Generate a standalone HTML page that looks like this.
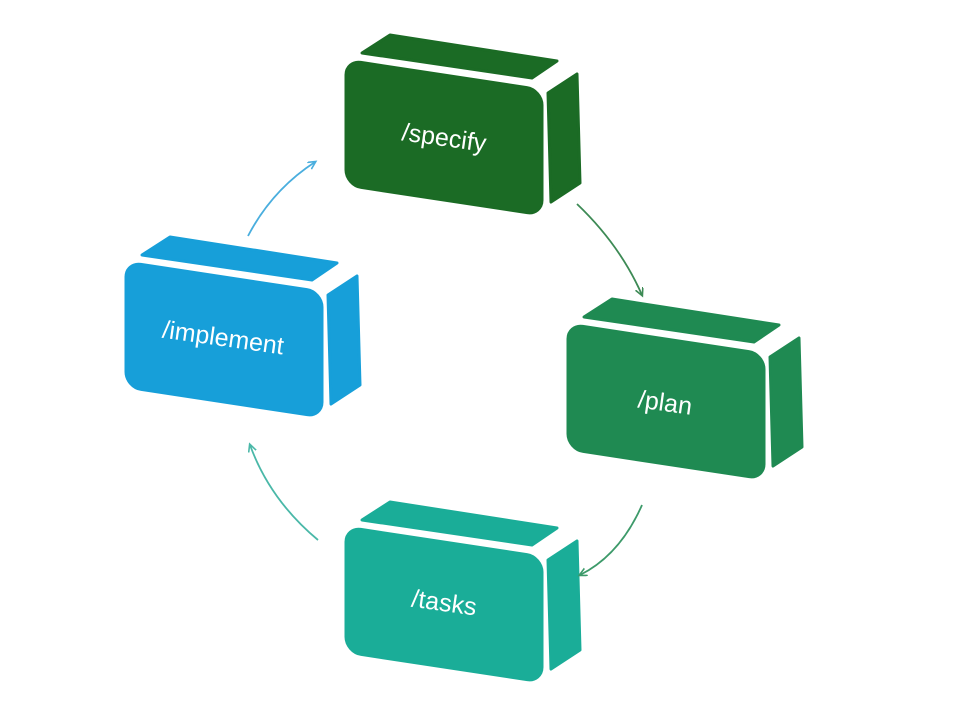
<!DOCTYPE html>
<html><head><meta charset="utf-8"><style>
html,body{margin:0;padding:0;background:#fff;width:964px;height:712px;overflow:hidden}
text{font-family:"Liberation Sans","DejaVu Sans",sans-serif;font-size:25px;fill:#fff}
</style></head><body>
<svg width="964" height="712" viewBox="0 0 964 712" xmlns="http://www.w3.org/2000/svg">
<defs>
<g id="box">
  <polygon points="17,-6 45,-24 212,2 187,19" stroke-linejoin="round" stroke-width="3"/>
  <polygon points="203,34 232,15 235,124 206,143" stroke-linejoin="round" stroke-width="3"/>
  <g transform="matrix(1,0.152,0,1,0,0)"><rect x="0" y="0" width="198" height="127" rx="16"/></g>
</g>
<marker id="ah" markerWidth="10" markerHeight="10" refX="7" refY="4" orient="auto" markerUnits="userSpaceOnUse">
<path d="M0,0 L8,4 L0,8" fill="none" stroke="context-stroke" stroke-width="1.6"/></marker>
</defs>
<g fill="#1b6b25" stroke="#1b6b25"><use href="#box" transform="translate(345,59)"/></g>
<g fill="#1f8a52" stroke="#1f8a52"><use href="#box" transform="translate(567,323)"/></g>
<g fill="#1aad98" stroke="#1aad98"><use href="#box" transform="translate(345,526)"/></g>
<g fill="#179fd9" stroke="#179fd9"><use href="#box" transform="translate(125,261)"/></g>
<text transform="translate(443,146) rotate(8)" text-anchor="middle">/specify</text>
<text transform="translate(664,411) rotate(8)" text-anchor="middle">/plan</text>
<text transform="translate(443,611) rotate(8)" text-anchor="middle">/tasks</text>
<text transform="translate(222,346) rotate(8)" text-anchor="middle">/implement</text>
<g fill="none" stroke-width="1.8">
<path d="M577,204 Q620,245 642,295" stroke="#3d8a55" marker-end="url(#ah)"/>
<path d="M642,505 Q620,555 580,575" stroke="#3d9a6a" marker-end="url(#ah)"/>
<path d="M318,540 Q270,500 250,445" stroke="#4ab8a8" marker-end="url(#ah)"/>
<path d="M248,236 Q272,190 315,162" stroke="#4aaede" marker-end="url(#ah)"/>
</g>
</svg>
</body></html>
